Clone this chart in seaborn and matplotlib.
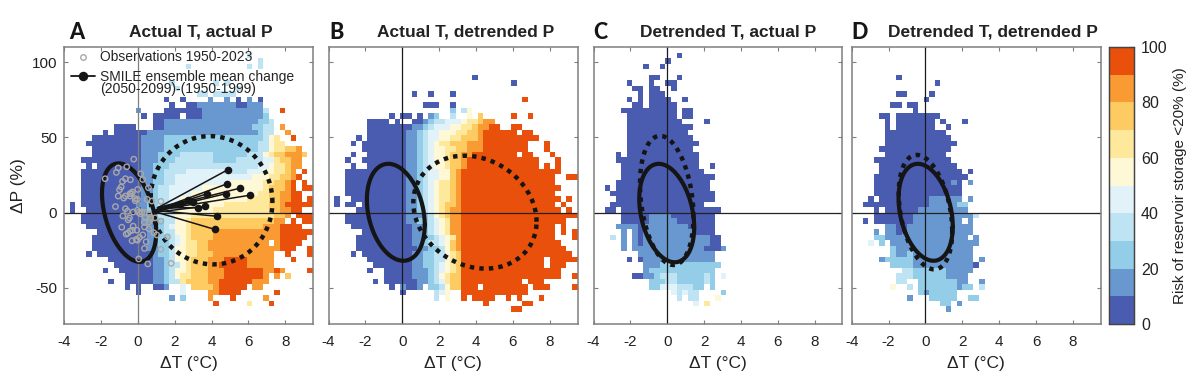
import numpy as np
import pandas as pd
import seaborn as sns
import matplotlib.pyplot as plt
from matplotlib.colors import ListedColormap
from matplotlib.lines import Line2D

# grid of the risk maps: 45 dT columns, 50 dP rows, row 0 on top
T_MIN, T_STEP, N_T = -4.0, 0.3, 45
P_TOP, P_STEP, N_P = 109.8, 3.66, 50
XLIM = (-4, 9.5)
YLIM = (-74, 110)

colors = ['#4A5CB0', '#6898CF', '#94CDE8', '#BEE3F3', '#E2F2F9',
          '#FFF8D6', '#FEE89C', '#FECB63', '#F99A32', '#E9500B']
titles = ['Actual T, actual P', 'Actual T, detrended P',
          'Detrended T, actual P', 'Detrended T, detrended P']
letters = ['A', 'B', 'C', 'D']
x_ticks = [-4, -2, 0, 2, 4, 6, 8]
y_ticks = [100, 50, 0, -50]
cbar_ticks = [0, 20, 40, 60, 80, 100]

# risk class (tens of %) per row, "column:class" starts a run, "-" means no data
risk_a = {
    1: "33:3 34:-", 2: "35:3 36:-", 3: "22:3 23:- 33:3 34:- 35:3 36:-",
    6: "19:3 20:- 27:3 28:- 29:3 30:-", 7: "20:3 21:- 31:3 32:-",
    8: "24:3 26:- 27:3 31:-",
    9: "18:0 19:- 21:0 22:- 26:1 27:- 29:1 30:- 31:0 32:- 33:1 34:- 35:0 36:-",
    10: "19:0 20:- 22:0 24:1 31:0 33:1 36:-",
    11: "13:1 14:- 18:0 25:1 36:3 37:- 39:9 40:-",
    12: "14:0 15:- 16:0 21:- 22:0 25:1 36:2 37:-",
    13: "16:0 18:1 35:2 37:3 38:-",
    14: "9:0 13:- 16:0 18:1 34:2 36:3 38:- 39:8 40:-",
    15: "7:0 8:- 9:0 15:1 35:2 36:3 38:- 40:8 41:-",
    16: "5:0 14:1 18:2 36:3 37:5 38:6 39:- 41:9 42:-",
    17: "4:0 14:1 18:2 35:3 37:5 38:6 40:-",
    18: "5:0 14:1 18:2 35:3 37:5 38:6 40:7 42:8 43:-",
    19: "5:0 14:1 17:2 21:3 27:2 33:3 36:5 37:6 38:7 40:8 43:7 44:-",
    20: "3:0 14:1 17:2 20:3 27:2 31:3 36:4 38:6 39:7 41:8 43:-",
    21: "4:0 5:- 6:0 14:1 16:2 19:3 35:4 37:5 38:6 40:7 41:8 43:-",
    22: "3:0 14:1 16:2 18:3 22:4 29:3 33:4 36:5 38:6 40:7 41:8 42:- 43:9 44:-",
    23: "3:0 14:1 16:2 18:3 20:4 34:5 37:6 39:7 41:8 42:9 43:-",
    24: "3:0 14:1 16:2 18:3 20:4 30:5 36:6 38:7 40:8 41:9 42:- 43:9 44:-",
    25: "3:0 14:1 16:2 17:3 19:4 25:5 36:6 37:7 40:8 41:9 42:- 43:9 45:-",
    26: "3:0 14:1 16:2 17:3 19:4 23:5 35:6 37:7 39:8 41:9 43:-",
    27: "3:0 14:1 16:2 17:3 19:4 21:5 33:6 37:7 39:8 41:9 43:- 44:9",
    28: "1:0 2:- 3:0 13:1 15:2 17:3 19:4 20:5 29:6 37:7 39:8 40:9",
    29: "1:0 2:- 4:0 14:1 15:2 17:3 19:4 20:5 27:6 37:7 39:8 41:9 43:-",
    30: "3:0 14:1 16:2 17:3 19:4 20:5 23:6 38:7 40:8 41:- 42:9",
    31: "3:0 14:1 16:2 18:3 20:5 22:6 23:7 38:8 40:- 41:9 42:- 43:9 45:-",
    32: "4:0 15:1 17:2 18:3 19:4 20:5 22:6 23:7 36:8 39:9 43:-",
    33: "6:0 15:1 17:2 18:3 20:5 22:6 23:7 27:8 39:9",
    34: "5:0 15:1 17:2 19:3 20:4 21:5 22:6 23:7 27:8 39:9 44:-",
    35: "5:0 15:1 17:2 19:3 20:4 21:5 22:6 24:7 26:8 37:- 38:8 39:9 43:-",
    36: "5:0 15:1 17:2 19:3 20:5 22:6 24:7 26:8 39:9 42:- 44:9",
    37: "4:0 5:- 6:0 16:1 17:2 19:3 20:5 22:6 24:7 27:8 38:- 40:9 41:- 44:9",
    38: "8:0 16:1 18:2 19:3 20:5 22:6 23:7 26:8 29:9 33:8 38:- 41:9 42:-",
    39: "9:0 16:1 18:2 19:3 21:5 22:6 23:7 26:8 28:9 33:8 38:-",
    40: "7:0 8:- 10:0 16:1 18:2 19:3 20:5 22:6 23:7 26:8 29:9 36:8 38:9 39:8 40:- 44:9",
    41: "11:0 16:1 18:2 19:3 20:5 21:6 23:7 26:8 29:9 36:8 37:- 38:8 39:- 40:7 41:-",
    42: "8:0 9:- 11:0 16:1 18:2 19:3 21:6 22:7 26:8 28:9 34:8 37:-",
    43: "11:0 12:- 13:0 14:- 16:0 18:1 19:- 21:4 22:- 23:7 27:8 28:9 33:- 34:8 36:-",
    44: "13:0 14:- 21:4 22:- 26:8 28:9 32:- 38:9 39:-",
    45: "19:1 20:- 21:2 22:- 26:8 27:- 30:9 31:- 36:8 37:-",
    46: "27:9 28:- 33:6 34:- 37:9 38:-",
}
risk_b = {
    5: "26:0 27:-", 6: "33:0 34:-", 8: "15:0 16:- 18:0 19:- 22:0 23:-",
    9: "35:9 36:-", 10: "17:0 20:- 22:0 23:-",
    11: "22:2 23:- 24:3 25:5 26:-",
    12: "11:0 12:- 13:0 15:- 16:0 17:- 18:1 19:2 20:- 22:3 23:- 25:5 26:- 27:7 28:- 33:9 34:- 36:9 37:-",
    13: "7:0 11:- 12:0 13:- 15:0 17:1 18:2 19:3 21:4 24:5 25:6 27:7 28:8 30:-",
    14: "7:0 15:1 17:2 18:3 19:4 22:5 24:6 26:7 27:8 29:9 31:- 33:9 35:-",
    15: "7:0 14:1 16:2 17:3 18:4 20:5 23:6 25:7 27:8 28:9 34:- 35:9 37:-",
    16: "5:0 6:- 7:0 14:1 16:2 17:3 18:4 20:5 22:6 24:7 27:8 28:9 38:-",
    17: "4:0 5:- 6:0 14:1 16:2 17:3 18:4 19:5 20:6 22:7 25:8 28:9 36:- 39:9 40:-",
    18: "6:0 14:1 16:2 17:3 18:4 19:5 21:6 23:7 25:8 28:9 36:- 37:9 37:- 39:9 40:-",
    19: "4:0 5:- 7:0 14:1 16:2 17:3 18:4 19:5 21:6 22:7 24:8 26:9 34:- 35:9 37:- 40:9 41:-",
    20: "3:0 4:- 6:0 14:1 16:2 17:3 18:4 19:5 21:6 22:7 24:8 25:9 38:- 41:9 42:-",
    21: "4:0 5:- 7:0 14:1 16:2 17:3 18:4 19:5 21:6 22:7 24:8 25:9 38:- 39:9 40:- 41:9 42:-",
    22: "3:0 14:1 16:2 17:3 18:4 20:5 22:7 23:8 24:9 42:-",
    23: "3:0 14:1 16:2 17:3 18:4 20:5 22:7 23:8 24:9 41:- 43:9 45:-",
    24: "3:0 14:1 16:2 17:3 18:4 19:5 20:6 22:7 23:8 24:9 41:-",
    25: "3:0 14:1 16:2 17:3 18:4 19:5 20:6 22:7 23:8 24:9 42:-",
    26: "3:0 14:1 16:2 17:3 18:4 19:5 20:6 22:7 23:8 24:9 41:-",
    27: "1:0 2:- 4:0 14:1 16:2 17:3 18:4 19:5 20:6 22:7 23:8 24:9 42:- 43:9 44:-",
    28: "1:0 2:- 3:0 5:- 6:0 14:1 16:2 17:3 18:4 19:5 20:6 21:7 23:8 24:9 41:- 42:9 43:-",
    29: "5:0 14:1 16:2 17:3 18:4 19:5 20:6 21:7 22:8 24:9 42:- 43:9 44:-",
    30: "3:0 14:1 17:2 18:3 19:5 20:6 21:7 22:8 24:9 44:- 44:9",
    31: "3:0 14:1 16:2 18:3 19:4 20:5 21:6 22:8 24:9 43:-",
    32: "4:0 15:1 17:2 18:3 19:4 20:5 21:6 22:8 24:9 41:- 42:9 43:-",
    33: "6:0 15:1 17:2 18:3 19:4 20:5 21:6 22:8 24:9 41:- 42:9 43:- 44:9",
    34: "5:0 15:1 17:2 19:3 20:4 21:5 22:6 23:8 24:9 41:- 44:9",
    35: "5:0 15:1 17:2 18:3 20:4 21:5 22:7 23:8 24:9 42:-",
    36: "5:0 16:1 18:2 20:3 21:5 22:7 23:8 24:9 43:-",
    37: "4:0 5:- 6:0 15:1 17:2 19:3 21:5 22:6 23:7 24:9 44:-",
    38: "7:0 15:1 17:2 19:3 21:5 22:6 23:7 24:9 39:- 40:9",
    39: "8:0 15:1 17:2 19:3 20:4 21:5 22:6 23:7 24:9 39:- 40:9 43:-",
    40: "7:0 8:- 10:0 15:1 18:2 19:3 20:4 21:5 22:6 23:7 24:9 42:-",
    41: "10:0 15:1 18:2 19:3 20:5 21:6 22:7 24:9 42:- 44:9",
    42: "8:0 9:- 10:0 16:1 18:2 19:3 20:4 21:6 22:7 24:9 35:- 36:9 39:-",
    43: "11:0 12:- 13:1 14:0 16:1 17:- 18:2 20:3 21:5 22:7 24:9 27:- 28:9 36:- 37:9 40:- 44:9",
    44: "13:0 14:- 19:3 20:4 21:5 22:- 24:9 36:-",
    45: "19:3 20:- 21:5 22:- 24:9 25:- 26:9 29:9 30:- 32:9 33:- 34:9 35:- 38:9 39:-",
    46: "28:9 29:- 35:9 37:-",
    47: "33:9 35:-",
}
risk_c = {
    1: "15:0 16:-", 2: "13:0 14:-", 3: "9:0 10:- 12:0 13:-",
    5: "10:0 12:- 15:0 16:-", 6: "6:0 7:- 10:0 11:- 13:0 15:-",
    7: "7:0 9:- 10:0 12:- 14:0 15:-", 8: "8:0 9:- 10:0 13:-",
    9: "6:0 7:- 8:0 9:- 10:0 14:- 16:0 17:-", 10: "7:0 9:- 10:0 15:-",
    11: "5:0 15:- 16:0 18:-", 12: "6:0 15:- 16:0 18:-",
    13: "6:0 16:- 20:0 21:-", 14: "6:0 18:-", 15: "6:0 17:-",
    16: "6:0 18:-", 17: "6:0 19:-", 18: "6:0 18:-", 19: "4:0 5:- 6:0 19:-",
    20: "4:0 19:-", 21: "5:0 19:- 21:0 22:-", 22: "5:0 20:-", 23: "5:0 22:-",
    24: "4:0 21:-", 25: "2:0 3:- 4:0 21:-", 26: "3:0 22:-", 27: "4:0 22:-",
    28: "3:0 20:-", 29: "2:0 4:- 5:0 23:-", 30: "5:0 10:1 14:0 22:-",
    31: "5:0 10:1 15:0 22:-", 32: "4:1 8:0 9:1 17:0 22:-",
    33: "5:1 6:- 7:1 8:0 9:1 18:0 22:-",
    34: "3:3 4:- 5:1 6:- 7:1 8:0 9:1 21:0 23:-",
    35: "5:1 6:- 7:1 8:0 9:1 21:0 23:-", 36: "5:1 6:- 7:1 20:0 23:1 24:-",
    37: "8:1 22:-", 38: "6:0 7:- 8:0 9:1 22:-", 39: "9:1 12:2 23:-",
    40: "9:1 10:2 22:-", 41: "7:0 9:1 11:2 12:3 15:2 20:3 21:2 22:- 23:4 24:-",
    42: "10:2 13:3 15:2 20:3 21:2 22:-",
    43: "10:2 12:4 15:3 18:2 20:- 21:2 22:-",
    44: "14:4 15:3 16:4 17:3 19:- 23:2 24:-",
    45: "15:3 16:- 17:3 19:- 22:5 23:-", 46: "18:4 19:- 20:6 21:-",
}
risk_d = {
    5: "8:0 9:-", 6: "15:0 16:-", 8: "8:0 10:- 14:0 15:-", 9: "13:0 14:-",
    10: "7:0 9:- 10:0 12:-", 11: "11:0 12:-", 12: "5:0 7:- 8:0 16:-",
    13: "6:0 7:- 8:0 15:- 16:0 17:- 20:0 21:-",
    14: "6:0 7:- 8:0 15:- 17:0 18:-", 15: "6:0 17:-", 16: "6:0 18:-",
    17: "6:0 19:-", 18: "5:0 18:-", 19: "6:0 17:-", 20: "4:0 18:-",
    21: "5:0 19:-", 22: "5:0 20:- 21:0 22:-", 23: "4:0 21:-",
    24: "4:0 18:1 19:0 20:- 21:1 22:-", 25: "4:0 20:-", 26: "4:0 20:-",
    27: "3:0 4:- 5:0 14:1 20:- 21:1 22:-", 28: "2:0 14:1 19:2 21:-",
    29: "4:0 5:- 6:0 12:1 21:-", 30: "4:0 11:1 22:3 23:-",
    31: "2:0 3:- 4:0 11:1 20:- 21:1 22:-", 32: "6:1 8:0 10:1 22:-",
    33: "4:1 5:- 6:1 8:0 9:1 22:-", 34: "4:2 6:1 21:- 22:1 23:-",
    35: "3:4 4:- 5:2 6:- 7:1 23:-", 36: "7:2 8:1 22:-",
    37: "7:2 8:1 10:2 11:1 22:-", 38: "5:1 6:2 11:1 22:- 23:1 24:-",
    39: "7:2 11:1 22:0 23:-", 40: "9:3 11:2 17:1 22:-",
    41: "8:3 11:2 17:1 21:-", 42: "8:3 10:- 12:2 19:1 21:- 23:1 24:-",
    43: "7:5 8:- 10:3 11:- 12:2 19:1 20:2 22:- 23:3 24:-",
    44: "12:2 13:1 14:2 19:-", 45: "10:1 11:- 14:2 19:- 21:2 23:-",
    46: "16:2 18:- 19:1 20:-", 47: "17:1 18:-",
}
risk_panels = [risk_a, risk_b, risk_c, risk_d]

# ellipses: centre T, half width, centre P, half height, correlation
solid_ell = [(-0.47, 1.47, 0.0, 32.7, -0.39), (-0.35, 1.57, 0.2, 32.2, -0.26),
             (-0.03, 1.49, -0.3, 32.7, -0.29), (0.01, 1.47, 0.2, 32.2, -0.29)]
dotted_ell = [(4.0, 3.3, 8.2, 42.6, -0.03), (3.94, 3.34, 0.3, 37.5, -0.17),
              (-0.03, 1.45, 8.1, 42.9, -0.25), (0.0, 1.45, 0.3, 38.0, -0.33)]

# observations 1950-2023 (panel A)
obs_t = [-0.22, -0.60, -1.06, -1.16, -1.77, 0.16, -0.67, -0.40, -0.83, 0.27, 0.58,
         0.00, -0.90, -0.99, -0.29, -0.34, -1.06, -0.67, -0.42, -0.02, -0.14, 0.51,
         0.76, 1.25, -1.21, -0.67, -0.56, -0.02, -0.25, 0.04, -0.81, -0.45, -0.52,
         0.36, 0.61, 0.70, 0.94, 1.25, 0.36, 0.61, -0.25, -0.87, 0.36, 0.60, -0.05,
         -0.42, -0.63, -0.54, 0.09, 0.27, 0.87, 1.03, 1.61, -0.31, -0.02, 0.45, 0.36,
         1.25, 0.05, 0.54, 1.81, -0.09, 0.67, 0.40, 0.13, -0.29, -0.14, -0.42, -0.76, 0.22]
obs_p = [35.5, 30.4, 29.7, 26.7, 22.5, 25.8, 22.5, 21.8, 20.7, 22.0, 16.5,
         15.4, 17.0, 15.2, 13.7, 12.6, 11.0, 11.0, 11.0, 8.8, 7.9, 8.8,
         7.7, 7.5, 4.0, 2.6, 0.9, 1.5, 0.4, 0.2, -2.2, -3.5, -4.8,
         0.2, -1.1, -3.1, -3.5, -5.7, -6.6, -6.2, -9.0, -9.7, -9.5, -10.8, -11.7,
         -12.3, -14.3, -13.7, -16.5, -14.8, -13.4, -14.8, -16.1, -18.7, -18.3, -19.4, -23.8,
         -24.4, -30.8, -34.1, -33.7, -17.8, -4.4, -2.9, -0.7, -11.7, 9.3, 12.6, 9.7, 0.4]

# SMILE members, 1950-1999 mean to 2050-2099 mean
smile_t0 = [1.05, 0.95, 1.10, 0.85, 1.20, 0.90, 1.00, 1.15, 0.80, 1.30, 0.95, 1.05, 1.10]
smile_p0 = [3.0, 1.5, 2.5, 1.0, 2.0, 1.0, 0.5, 3.0, 0.0, 1.0, 0.5, 2.0, 3.5]
smile_t1 = [4.87, 4.86, 5.56, 4.78, 6.06, 3.77, 3.01, 3.29, 3.65, 4.28, 4.19, 2.29, 2.74]
smile_p1 = [28.4, 19.2, 16.3, 12.6, 11.5, 12.6, 7.0, 3.3, 4.2, -2.4, -11.2, 5.9, 8.1]


def read_grid(rows):
    grid = np.full((N_P, N_T), np.nan)
    for r, runs in rows.items():
        tokens = [t.split(':') for t in runs.split()]
        for i, (c, v) in enumerate(tokens):
            end = int(tokens[i + 1][0]) if i + 1 < len(tokens) else N_T
            if v != '-':
                grid[r, int(c):end] = int(v) * 10 + 5
    return grid


# heatmap axes count in cells, so everything else goes through these two
def col_of(t):
    return (np.asarray(t, dtype=float) - T_MIN) / T_STEP


def row_of(p):
    return (P_TOP - np.asarray(p, dtype=float)) / P_STEP


def ellipse(cx, a, cy, b, rho):
    s = np.linspace(0, 2 * np.pi, 200)
    return cx + a * np.cos(s), cy + b * (rho * np.cos(s) + np.sqrt(1 - rho ** 2) * np.sin(s))


sns.set_theme(style='white')
plt.rcParams['font.family'] = ['Liberation Sans', 'DejaVu Sans']
plt.rcParams['axes.unicode_minus'] = False

W, H = 1194, 386
fig = plt.figure(figsize=(W / 100, H / 100), dpi=100)
cmap = ListedColormap(colors)
grey = '#7f7f7f'

lefts = [64, 328.5, 593.5, 851.7]
title_x = [201, 466, 728, 993]
letter_x = [69, 329.5, 593, 851]
top, bottom, width = 47, 324, 249

cax = fig.add_axes([1108.7 / W, 1 - bottom / H, 25.3 / W, (bottom - top) / H])

for i, left in enumerate(lefts):
    ax = fig.add_axes([left / W, 1 - bottom / H, width / W, (bottom - top) / H])
    sns.heatmap(read_grid(risk_panels[i]), ax=ax, cmap=cmap, vmin=0, vmax=100,
                cbar=i == 3, cbar_ax=cax if i == 3 else None,
                cbar_kws={'ticks': cbar_ticks} if i == 3 else None,
                xticklabels=False, yticklabels=False, zorder=1)

    zero_col = 'k' if i else grey
    ax.axvline(col_of(0), color=zero_col, lw=0.9, zorder=2)
    ax.axhline(row_of(0), color='#222222', lw=0.9, zorder=2)

    ex, ey = ellipse(*dotted_ell[i])
    ax.plot(col_of(ex), row_of(ey), color='#151515', lw=3.2, ls=(0, (1, 1.15)), zorder=3)
    ex, ey = ellipse(*solid_ell[i])
    ax.plot(col_of(ex), row_of(ey), color='#151515', lw=3.0, zorder=3)

    if i == 0:
        sns.scatterplot(x=col_of(obs_t), y=row_of(obs_p), ax=ax, s=15, facecolor='none',
                        edgecolor='#a8a8a8', linewidth=1.0, zorder=4, legend=False)
        for t0, p0, t1, p1 in zip(smile_t0, smile_p0, smile_t1, smile_p1):
            ax.plot(col_of([t0, t1]), row_of([p0, p1]), color='#151515', lw=1.1, zorder=5)
        sns.scatterplot(x=col_of(smile_t1), y=row_of(smile_p1), ax=ax, s=30, color='#151515',
                        linewidth=0, zorder=6, legend=False)

        handles = [Line2D([], [], ls='none', marker='o', ms=4, mfc='none', mec='#a8a8a8', mew=1.0),
                   Line2D([], [], color='#151515', lw=1.3, marker='o', ms=5.8)]
        leg = ax.legend(handles, ['Observations 1950-2023', 'SMILE ensemble mean change'],
                        loc='upper left', bbox_to_anchor=(0.015, 1.0), frameon=False, fontsize=10,
                        handlelength=1.7, handletextpad=0.35, labelspacing=0.4, borderpad=0.25,
                        borderaxespad=0.0)
        leg.set_zorder(7)
        fig.text(100 / W, 1 - 89.5 / H, '(2050-2099)-(1950-1999)', fontsize=10,
                 color='#222222', ha='left', va='center', zorder=8)

    ax.set_xlim(col_of(XLIM[0]), col_of(XLIM[1]))
    ax.set_ylim(row_of(YLIM[0]), row_of(YLIM[1]))
    ax.set_xticks(col_of(x_ticks))
    ax.set_xticklabels(x_ticks, fontsize=11, color='#222222')
    ax.set_yticks(row_of(y_ticks))
    ax.set_yticklabels(y_ticks if i == 0 else [], fontsize=11, color='#222222', rotation=0)
    ax.tick_params(direction='in', length=2.8, width=0.8, color=grey, top=True, right=True,
                   left=True, bottom=True, pad=8)
    ax.tick_params(axis='y', pad=5)
    for sp in ax.spines.values():
        sp.set_visible(True)
        sp.set_color(grey)
        sp.set_linewidth(1.1)
    ax.set_xlabel('ΔT (°C)', fontsize=12.5, color='#222222', labelpad=5, visible=True)
    if i == 0:
        ax.set_ylabel('ΔP (%)', fontsize=12.5, color='#222222', labelpad=4, visible=True)

    fig.text(title_x[i] / W, 1 - 32 / H, titles[i], fontsize=12.5, fontweight='bold',
             color='#222222', ha='center', va='center')
    fig.text(letter_x[i] / W, 1 - 32.5 / H, letters[i], fontsize=15.5, fontweight=900,
             family='Lato', color='#151515', ha='left', va='center')

cax.tick_params(direction='in', length=3, width=0.8, color='#444444', labelsize=11.5,
                labelcolor='#222222', pad=5, right=True)
cax.set_ylabel('Risk of reservoir storage <20% (%)', fontsize=11, color='#222222', labelpad=4)
for sp in cax.spines.values():
    sp.set_visible(True)
    sp.set_color('#444444')
    sp.set_linewidth(0.9)

fig.savefig('out.png', dpi=100)
plt.close(fig)
